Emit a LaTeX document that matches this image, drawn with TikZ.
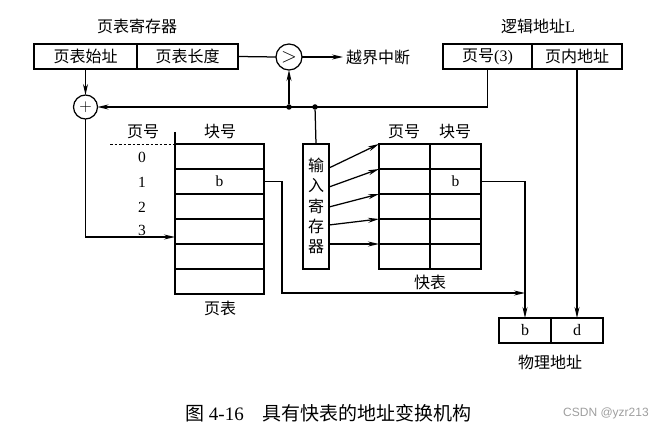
\documentclass[tikz,border=0pt]{standalone}
\usepackage{fontspec}
\setmainfont{Liberation Serif}
\newfontfamily\cjk{Noto Sans CJK SC}
\usetikzlibrary{arrows.meta}
\begin{document}
\begin{tikzpicture}[x=1pt,y=-1pt,
  ln/.style={line width=1.25pt},
  arr/.style={ln,-{Stealth[length=11pt,width=5pt]}},
  cell/.style={draw,line width=1.25pt,minimum height=25pt,inner sep=0pt,outer sep=0pt,
    font=\fontsize{16}{18}\selectfont},
  zh/.style={font=\cjk\fontsize{16}{18}\selectfont,inner sep=0pt},
  num/.style={font=\fontsize{15.5}{18}\selectfont,inner sep=0pt},
  ring/.style={draw,circle,line width=1.25pt,inner sep=0pt,outer sep=0pt,minimum size=#1},
  dot/.style={circle,fill,inner sep=0pt,minimum size=5.5pt}]
\useasboundingbox (0,0) rectangle (656,430);

% page-table register
\node[zh] (ptregt) at (137,26) {页表寄存器};
\node[cell,minimum width=103pt,font=\cjk\fontsize{16}{18}\selectfont] (ptstart) at (85.5,56.5) {页表始址};
\node[cell,minimum width=101pt,font=\cjk\fontsize{16}{18}\selectfont] (ptlen) at (187.5,56.5) {页表长度};

% logical address
\node[font=\fontsize{16}{18}\selectfont,inner sep=0pt] (lat) at (538,26) {{\cjk 逻辑地址}L};
\node[cell,minimum width=89pt] (lpage) at (487.5,56.5) {{\cjk 页号}(3)};
\node[cell,minimum width=90pt,font=\cjk\fontsize{16}{18}\selectfont] (loff) at (577,56.5) {页内地址};

% comparator and adder
\node[ring=26pt,font=\fontsize{22}{22}\selectfont] (cmp) at (289,57) {$>$};
\node[ring=24pt,font=\fontsize{19}{19}\selectfont] (plus) at (85.5,107) {$+$};
\coordinate (ovf) at (343,57);
\node[zh,anchor=west] (ovft) at (346,57) {越界中断};

% junctions on the page-number line
\node[dot] (j1) at (289,107) {};
\node[dot] (j2) at (315,107) {};

% page table
\foreach \i in {0,...,5}
  \node[cell,minimum width=89pt] (pt\i) at (219.5,156.5+25*\i) {};
\node[num] at (pt1) {b};
\node[zh] (pth1) at (143,132) {页号};
\node[zh] (pth2) at (220,132) {块号};
\coordinate (dash0) at (110,144);
\coordinate (tick0) at (175,132);
\draw[line width=0.8pt,dashed,dash pattern=on 2.5pt off 2pt] (dash0) -- (pt0.north west);
\draw[ln] (tick0) -- (pt0.north west);
\node[num] (r0) at (142,157) {0};
\node[num] (r1) at (142,182) {1};
\node[num] (r2) at (142,207) {2};
\node[num] (r3) at (142,230) {3};
\node[zh] (ptt) at (220,308) {页表};

% input register
\node[draw,line width=1.25pt,minimum width=26pt,minimum height=125pt,inner sep=0pt,outer sep=0pt] (inreg) at (316,206.5) {};
\foreach \c [count=\k from 0] in {输,入,寄,存,器}
  \node[zh] (ir\k) at (316,165+20.5*\k) {\c};

% fast table (TLB)
\foreach \i in {0,...,4} {
  \node[cell,minimum width=51pt] (ft\i a) at (404.5,156.5+25*\i) {};
  \node[cell,minimum width=51pt] (ft\i b) at (455.5,156.5+25*\i) {};
}
\node[num] at (ft1b) {b};
\node[zh] (fth1) at (404,132) {页号};
\node[zh] (fth2) at (455,132) {块号};
\node[zh] (ftt) at (430,282) {快表};

% physical address
\node[cell,minimum width=52pt] (pb) at (525,330.5) {b};
\node[cell,minimum width=52pt] (pd) at (577,330.5) {d};
\node[zh] (pat) at (550,362) {物理地址};

% connectors
\draw[arr] (ptstart.south) -- (plus.north);
\draw[ln] (ptlen.east) -- (cmp.west);
\draw[arr] (cmp.east) -- (ovf);
\draw[arr] (lpage.south) |- (plus.east);
\draw[arr] (j1) -- (cmp.south);
\draw[ln] (j2) -- (inreg.north);
\coordinate (pt3in) at (175,237);
\draw[arr] (plus.south) |- (pt3in);

\draw[arr] ([yshift=-24pt]inreg.north east) -- (ft0a.north west);
\draw[arr] ([yshift=-43pt]inreg.north east) -- (ft1a.north west);
\draw[arr] ([yshift=-63pt]inreg.north east) -- (ft2a.north west);
\draw[arr] ([yshift=-81pt]inreg.north east) -- (ft3a.north west);
\draw[arr] ([yshift=-100pt]inreg.north east) -- (ft4a.north west);

\coordinate (bend) at (282,293);
\coordinate (bjoin) at (525,293);
\draw[arr] (pt1.east) -| (bend) -- (bjoin);
\draw[arr] (ft1b.east) -| (pb.north);
\draw[arr] (loff.south) -- (pd.north);

% caption and watermark
\node[font=\fontsize{19}{22}\selectfont,inner sep=0pt] (cap) at (328.5,413) {{\cjk 图} 4-16\hspace{1em}{\cjk 具有快表的地址变换机构}};
\node[anchor=west,inner sep=0pt,text=black!38,font=\fontspec{Liberation Sans}\fontsize{12}{14}\selectfont] (wm) at (563,413) {CSDN @yzr213};
\end{tikzpicture}
\end{document}
